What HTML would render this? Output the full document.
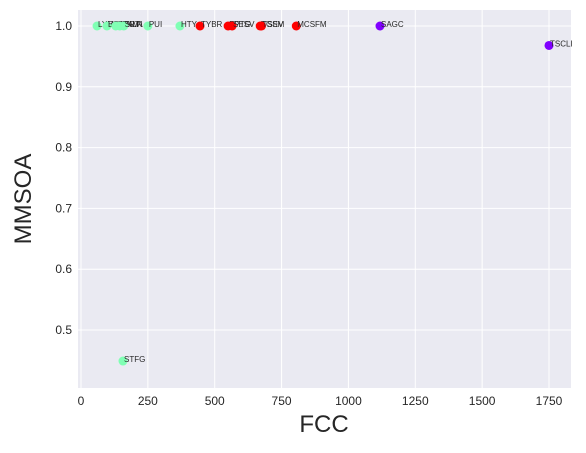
<!DOCTYPE html>
<html><head><meta charset="utf-8"><style>
body{margin:0;background:#fff;}
svg{font-family:"Liberation Sans",sans-serif;}
</style></head><body>
<svg width="586" height="448">
<rect x="78" y="10" width="493" height="378" fill="#eaeaf2"/>
<g id="grid"></g><g id="pts"></g>
<text x="324" y="432" font-size="24" text-anchor="middle" fill="#262626">FCC</text>
<text x="0" y="0" font-size="24" text-anchor="middle" fill="#262626" transform="translate(31,199) rotate(-90)">MMSOA</text>
</svg>
<script>
const labels=["LYM","BSAT","CMRT","GKLN","SWA","PUI","HTY","TYBR","EPTG","SESV","TGSM","TSEV","MCSFM","SAGC","TSCLI","STFG"];
const fcc=[60,97,130,145,160,250,370,445,550,565,670,675,805,1118,1750,157];
const mmsoa=[1,1,1,1,1,1,1,1,1,1,1,1,1,1,0.968,0.449];
const groups=["g","g","g","g","g","g","g","r","r","r","r","r","r","p","p","g"];
const xticks=[0,250,500,750,1000,1250,1500,1750];
const yticks=[0.5,0.6,0.7,0.8,0.9,1.0];
const fx=v=>81+v*(549-81)/1750, fy=v=>26+(1-v)*608;
const ns="http://www.w3.org/2000/svg";
const G=document.getElementById('grid'),P=document.getElementById('pts');
function mk(t,a,p){const e=document.createElementNS(ns,t);for(const k in a)e.setAttribute(k,a[k]);p.appendChild(e);return e;}
xticks.forEach(v=>{const l=mk('line',{x1:fx(v),x2:fx(v),y1:10,y2:388,stroke:'#fff','stroke-width':1},G);


const t=mk('text',{x:fx(v),y:405,'font-size':12,'text-anchor':'middle',fill:'#262626'},G);t.textContent=v;

});
yticks.forEach(v=>{const l=mk('line',{x1:78,x2:571,y1:fy(v),y2:fy(v),stroke:'#fff','stroke-width':1},G);


const t=mk('text',{x:72,y:fy(v)+4,'font-size':12,'text-anchor':'end',fill:'#262626'},G);t.textContent=v.toFixed(1);

});
const col={g:'#80ffb4',r:'#ff0000',p:'#8000ff'};
for(let i=0;i<fcc.length;i++){
const c=mk('circle',{cx:fx(fcc[i]),cy:fy(mmsoa[i]),r:4.5,fill:col[groups[i]]},P);


const t=mk('text',{x:fx(fcc[i])+1,y:fy(mmsoa[i])+1,'font-size':8,fill:'#262626'},P);t.textContent=labels[i];

}
</script>
</body></html>
